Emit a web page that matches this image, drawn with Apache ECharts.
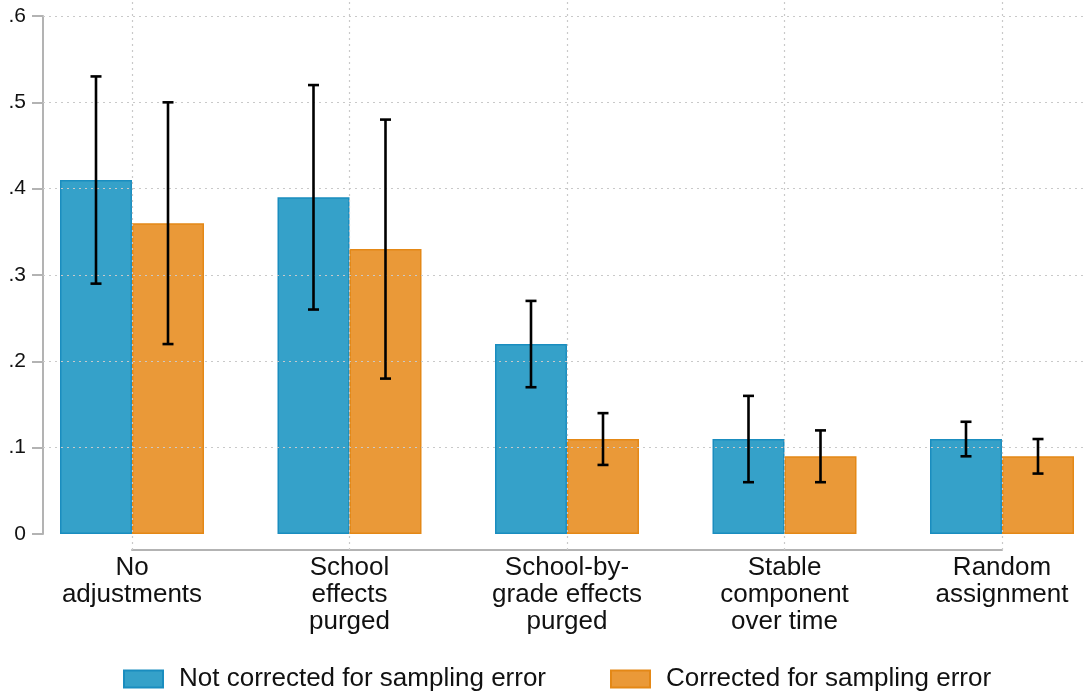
<!DOCTYPE html>
<html>
<head>
<meta charset="utf-8">
<style>
  html, body { margin: 0; padding: 0; background: #fff; }
  #chart { width: 1085px; height: 696px; }
</style>
<script src="https://cdn.jsdelivr.net/npm/echarts@6/dist/echarts.min.js"></script>
</head>
<body>
<div id="chart"></div>
<script>
// Estimated effects with 95% confidence intervals, by adjustment method
const categories = [
  'No\nadjustments',
  'School\neffects\npurged',
  'School-by-\ngrade effects\npurged',
  'Stable\ncomponent\nover time',
  'Random\nassignment'
];
const seriesNames = ['Not corrected for sampling error', 'Corrected for sampling error'];

const notCorrected     = [0.41, 0.39, 0.22, 0.11, 0.11];
const notCorrectedLow  = [0.29, 0.26, 0.17, 0.06, 0.09];
const notCorrectedHigh = [0.53, 0.52, 0.27, 0.16, 0.13];

const corrected        = [0.36, 0.33, 0.11, 0.09, 0.09];
const correctedLow     = [0.22, 0.18, 0.08, 0.06, 0.07];
const correctedHigh    = [0.50, 0.48, 0.14, 0.12, 0.11];

const yTicks = [0, 0.1, 0.2, 0.3, 0.4, 0.5, 0.6];
const yTickLabels = ['0', '.1', '.2', '.3', '.4', '.5', '.6'];

// Layout (pixels)
const W = 1085, H = 696;
const axisLeft = 132, axisRight = 1002;   // first / last category centre
const axisTop = 16, axisBottom = 534;     // .6 and 0
const plotLeft = 43, plotTop = 0, plotRight = W, plotBottom = 550;
const BAR_W = 72;

const yMin = yTicks[0], yMax = yTicks[yTicks.length - 1];
const pxPerY = (axisBottom - axisTop) / (yMax - yMin);
const pxPerX = (axisRight - axisLeft) / (categories.length - 1);

// Extent of the dotted background grid, in data units
const bgXMin = -(axisLeft - plotLeft) / pxPerX;
const bgXMax = (categories.length - 1) + (plotRight - axisRight) / pxPerX;
const bgYMin = yMin - (plotBottom - axisBottom) / pxPerY;
const bgYMax = yMax + (axisTop - plotTop) / pxPerY;

const FONT = '"Liberation Sans", Arial, sans-serif';
const AXIS_GREY = '#b3b3b3';
const GRID_GREY = '#c9c9c9';
const BLUE = '#35a1c9', BLUE_EDGE = '#1a8dbf';
const ORANGE = '#ea9938', ORANGE_EDGE = '#e48816';

function errorBars(low, high, shift) {
  return {
    type: 'custom',
    xAxisIndex: 0, yAxisIndex: 0,
    z: 5,
    silent: true,
    data: low.map((l, i) => [i, l, high[i]]),
    encode: { x: 0, y: [1, 2] },
    renderItem: function (params, api) {
      const x = api.value(0);
      const a = api.coord([x, api.value(1)]);
      const b = api.coord([x, api.value(2)]);
      const cx = a[0] + shift;
      const cap = 5.5;
      const st = { stroke: '#000', lineWidth: 2.6 };
      return {
        type: 'group',
        children: [
          { type: 'line', shape: { x1: cx, y1: a[1], x2: cx, y2: b[1] }, style: st },
          { type: 'line', shape: { x1: cx - cap, y1: a[1], x2: cx + cap, y2: a[1] }, style: st },
          { type: 'line', shape: { x1: cx - cap, y1: b[1], x2: cx + cap, y2: b[1] }, style: st }
        ]
      };
    }
  };
}

const gridLineData = [];
categories.forEach((c, i) => gridLineData.push({ xAxis: i }));
yTicks.slice(1).forEach(v => gridLineData.push({ yAxis: v }));

function legendFor(name, left) {
  return {
    data: [name],
    left: left,
    top: 661,
    icon: 'rect',
    itemWidth: 39,
    itemHeight: 17,
    textStyle: { fontFamily: FONT, fontSize: 26, color: '#111', padding: [0, 0, 0, 11] }
  };
}

const option = {
  animation: false,
  backgroundColor: '#fff',
  textStyle: { fontFamily: FONT },
  grid: [
    { left: axisLeft, right: W - axisRight, top: axisTop, bottom: H - axisBottom, containLabel: false },
    { left: plotLeft, right: W - plotRight, top: plotTop, bottom: H - plotBottom, containLabel: false }
  ],
  xAxis: [
    {
      type: 'category',
      gridIndex: 0,
      data: categories,
      boundaryGap: false,
      position: 'bottom',
      offset: plotBottom - axisBottom,
      axisLine: { show: true, onZero: false, lineStyle: { color: AXIS_GREY, width: 2 } },
      axisTick: { show: false },
      splitLine: { show: false },
      axisLabel: {
        interval: 0,
        margin: 4,
        color: '#111',
        fontFamily: FONT,
        fontSize: 26,
        lineHeight: 27,
        align: 'center'
      }
    },
    {
      type: 'value', gridIndex: 1, min: bgXMin, max: bgXMax,
      show: false
    }
  ],
  yAxis: [
    {
      type: 'value',
      gridIndex: 0,
      min: yMin, max: yMax, interval: 0.1,
      offset: axisLeft - plotLeft,
      axisLine: { show: true, lineStyle: { color: AXIS_GREY, width: 2 } },
      axisTick: { show: true, length: 11, lineStyle: { color: AXIS_GREY, width: 2 } },
      splitLine: { show: false },
      axisLabel: {
        margin: 17,
        color: '#111',
        fontFamily: FONT,
        fontSize: 21,
        formatter: function (v) {
          const k = yTicks.findIndex(t => Math.abs(t - v) < 1e-9);
          return k >= 0 ? yTickLabels[k] : '';
        }
      }
    },
    {
      type: 'value', gridIndex: 1, min: bgYMin, max: bgYMax,
      show: false
    }
  ],
  legend: [legendFor(seriesNames[0], 118), legendFor(seriesNames[1], 605)],
  series: [
    {
      name: 'gridlines',
      type: 'line',
      xAxisIndex: 1, yAxisIndex: 1,
      data: [[0, 0]],
      symbol: 'none',
      lineStyle: { opacity: 0 },
      silent: true,
      z: 0,
      markLine: {
        silent: true,
        symbol: 'none',
        label: { show: false },
        animation: false,
        lineStyle: { color: GRID_GREY, width: 1.2, type: [2, 4] },
        data: gridLineData
      }
    },
    {
      name: seriesNames[0],
      type: 'bar',
      xAxisIndex: 0, yAxisIndex: 0,
      data: notCorrected,
      barWidth: BAR_W,
      barGap: '0%',
      clip: false,
      z: 2,
      itemStyle: { color: BLUE, borderColor: BLUE_EDGE, borderWidth: 1.5 }
    },
    {
      name: seriesNames[1],
      type: 'bar',
      xAxisIndex: 0, yAxisIndex: 0,
      data: corrected,
      barWidth: BAR_W,
      barGap: '0%',
      clip: false,
      z: 2,
      itemStyle: { color: ORANGE, borderColor: ORANGE_EDGE, borderWidth: 1.5 }
    },
    errorBars(notCorrectedLow, notCorrectedHigh, -BAR_W / 2),
    errorBars(correctedLow, correctedHigh, BAR_W / 2)
  ]
};

const chart = echarts.init(document.getElementById('chart'), null, { renderer: 'canvas' });
chart.setOption(option);
</script>
</body>
</html>
